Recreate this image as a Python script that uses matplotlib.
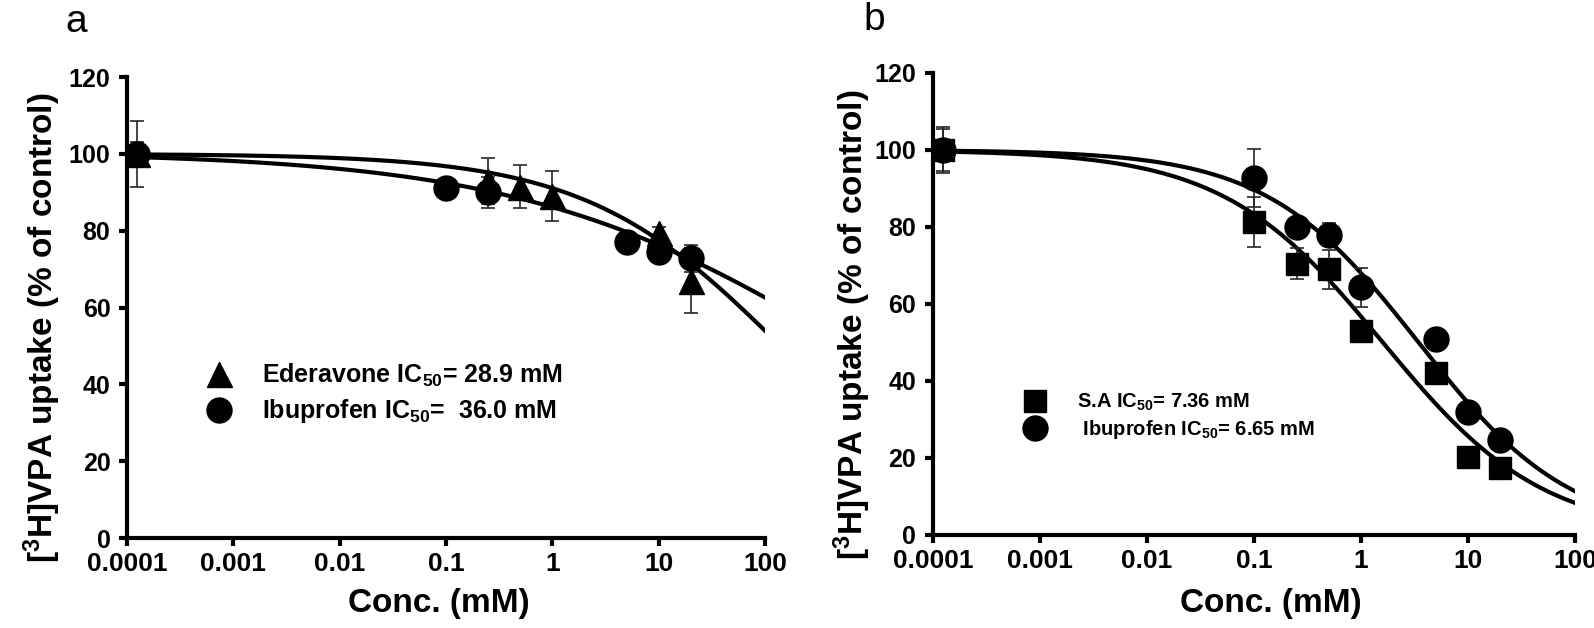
import numpy as np
import matplotlib
matplotlib.use('Agg')
import matplotlib.pyplot as plt

plt.rcParams['font.family'] = ['Liberation Sans', 'DejaVu Sans']
plt.rcParams['font.weight'] = 'bold'
plt.rcParams['axes.labelweight'] = 'bold'
plt.rcParams['mathtext.fontset'] = 'custom'
plt.rcParams['mathtext.rm'] = 'Liberation Sans:bold'
plt.rcParams['mathtext.it'] = 'Liberation Sans:bold'
plt.rcParams['mathtext.bf'] = 'Liberation Sans:bold'

# panel a data (conc in mM, uptake % of control)
ede_conc = [1.25e-4, 0.25, 0.5, 1, 10, 20]
ede_mean = [100, 93, 91.5, 89, 79.5, 67]
ede_err = [8.5, 6, 5.5, 6.5, 1.5, 8.5]
ibu_a_conc = [1.25e-4, 0.1, 0.25, 5, 10, 20]
ibu_a_mean = [100, 91, 90, 77, 74.5, 72.8]
ibu_a_err = [3.2, 0, 4, 0, 0, 3.5]

# panel b data
b_conc = [1.25e-4, 0.1, 0.25, 0.5, 1, 5, 10, 20]
sa_mean = [100, 81.2, 70.5, 69, 53, 42, 20.3, 17.3]
sa_err = [6, 6.5, 4, 5, 0, 0, 0, 0]
ibu_b_mean = [100, 92.7, 80, 78, 64.3, 50.8, 32, 24.8]
ibu_b_err = [5.5, 7.5, 0, 3, 5, 0, 0, 0]

# fitted curve parameters (top, IC, hill slope) as drawn
ede_fit = (100, 140, 0.47)
ibu_a_fit = (100.5, 600, 0.28)
sa_fit = (100, 1.6, 0.58)
ibu_b_fit = (100, 3.45, 0.61)

xticks = [1e-4, 1e-3, 1e-2, 1e-1, 1, 10, 100]
xticklabels = ['0.0001', '0.001', '0.01', '0.1', '1', '10', '100']
yticks = [0, 20, 40, 60, 80, 100, 120]


def hill(x, p):
    top, ic, h = p
    return top / (1 + (x / ic) ** h)


def style_axes(ax):
    ax.set_xscale('log')
    ax.set_xlim(1e-4, 100)
    ax.set_ylim(0, 120)
    ax.set_xticks(xticks)
    ax.set_xticklabels(xticklabels)
    ax.minorticks_off()
    ax.set_yticks(yticks)
    for s in ['top', 'right']:
        ax.spines[s].set_visible(False)
    for s in ['left', 'bottom']:
        ax.spines[s].set_linewidth(3)
    ax.tick_params(axis='both', width=3, length=6)
    ax.tick_params(axis='x', labelsize=19, pad=4)
    ax.tick_params(axis='y', labelsize=18, pad=6)
    ax.set_ylabel(r'[$^{3}$H]VPA uptake (% of control)', fontsize=24)
    ax.set_xlabel('Conc. (mM)', fontsize=24)


def draw(ax, conc, mean, err, fit, marker, ms, label):
    xs = np.logspace(np.log10(1.25e-4), 2, 300)
    ax.plot(xs, hill(xs, fit), color='black', lw=3, zorder=2)
    ax.errorbar(conc, mean, yerr=err, fmt='none', ecolor='0.15',
                elinewidth=1.2, capsize=5, capthick=1.2, zorder=3)
    h, = ax.plot(conc, mean, marker, color='black', ms=ms, ls='none',
                 zorder=4, label=label)
    return h


fig = plt.figure(figsize=(15.94, 6.28), dpi=100)
ax1 = fig.add_axes([0.0797, 0.1433, 0.4003, 0.734])
ax2 = fig.add_axes([0.5853, 0.1481, 0.4028, 0.7357])

h1 = draw(ax1, ibu_a_conc, ibu_a_mean, ibu_a_err, ibu_a_fit, 'o', 18,
          r'Ibuprofen IC$_{50}$=  36.0 mM')
h2 = draw(ax1, ede_conc, ede_mean, ede_err, ede_fit, '^', 18,
          r'Ederavone IC$_{50}$= 28.9 mM')
style_axes(ax1)
ax1.yaxis.set_label_coords(-0.100, 0.457)
ax1.xaxis.set_label_coords(0.489, -0.108)
ax1.legend([h2, h1], [h2.get_label(), h1.get_label()], loc='center left',
           bbox_to_anchor=(0.1246, 0.3134), frameon=False, fontsize=18,
           handlelength=1.0, handletextpad=1.22, labelspacing=0.34,
           borderpad=0, borderaxespad=0)

h3 = draw(ax2, b_conc, sa_mean, sa_err, sa_fit, 's', 16,
          r'S.A IC$_{50}$= 7.36 mM')
h4 = draw(ax2, b_conc, ibu_b_mean, ibu_b_err, ibu_b_fit, 'o', 18,
          r' Ibuprofen IC$_{50}$= 6.65 mM')
style_axes(ax2)
ax2.yaxis.set_label_coords(-0.093, 0.455)
ax2.xaxis.set_label_coords(0.526, -0.115)
ax2.legend([h3, h4], [h3.get_label(), h4.get_label()], loc='center left',
           bbox_to_anchor=(0.143, 0.256), frameon=False, fontsize=14.5,
           handlelength=1.0, handletextpad=1.6, labelspacing=0.25,
           borderpad=0, borderaxespad=0)

fig.text(76 / 1594, 1 - 22 / 628, 'a', fontsize=28, fontweight='normal',
         ha='center', va='center')
fig.text(874 / 1594, 1 - 20 / 628, 'b', fontsize=28, fontweight='normal',
         ha='center', va='center')

fig.savefig('out.png', dpi=100)
